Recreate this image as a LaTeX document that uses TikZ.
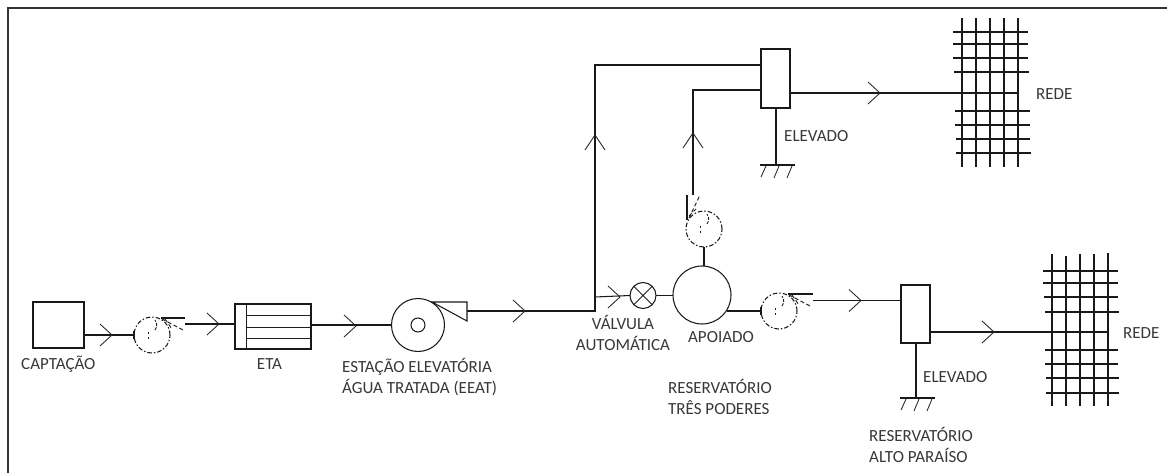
\documentclass[tikz,border=0pt]{standalone}
\usepackage{fontspec}
\setmainfont{Carlito}
\tikzset{
  x=1pt,y=-1pt,
  pipe/.style={draw=black!90,line width=1.05pt},
  thin pipe/.style={draw=black!88,line width=0.95pt},
  chev/.style={draw=black!85,line width=0.85pt},
  equip/.style={draw=black!90,line width=1.05pt,fill=white,inner sep=0pt,outer sep=0pt},
  pump/.style={circle,draw=black!90,line width=1.05pt,dash pattern=on 4.5pt off 2pt on 1.5pt off 2pt,minimum size=36pt,inner sep=0pt,outer sep=0pt},
  lab/.style={inner sep=0pt,font=\fontsize{17pt}{21pt}\selectfont,text=black!78,align=left},
}
\newcommand{\chevR}[2]{\draw[chev] (#1-12,#2-11) -- (#1,#2) -- (#1-12,#2+11);}
\newcommand{\chevU}[2]{\draw[chev] (#1-10,#2+15) -- (#1,#2) -- (#1+10,#2+15);}
\newcommand{\pumpDeco}[2]{%
  \draw[thin pipe,dash pattern=on 3pt off 1.5pt] (#1+3,#2-5) arc (50:-50:5 and 6.5);
  \draw[thin pipe] (#1-4,#2-3) -- (#1-4,#2-1) (#1-4,#2+2) -- (#1-4,#2+4);
}
\newcommand{\ground}[2]{%
  \draw[pipe] (#1-16,#2) -- (#1+19,#2);
  \draw[chev] (#1-10,#2+1) -- (#1-15,#2+12) (#1+3,#2+1) -- (#1-2,#2+13) (#1+16,#2+1) -- (#1+11,#2+13);
}
\begin{document}
\begin{tikzpicture}
\useasboundingbox (0,0) rectangle (1167,473);
\fill[white] (0,0) rectangle (1167,473);
\draw[draw=black!80,line width=1.2pt] (8,473) -- (8,8) -- (1167,8);

% equipment
\node[equip,minimum width=51pt,minimum height=46pt] (capt) at (58.5,325) {};
\node[pump] (p1) at (152,335) {};
\node[equip,minimum width=76pt,minimum height=45pt] (eta) at (273,326.5) {};
\node[circle,equip,minimum size=53pt] (eeat) at (418,325) {};
\node[circle,equip,minimum size=14pt] (eeatin) at (418,325) {};
\node[circle,equip,minimum size=26pt] (valve) at (643,295.5) {};
\node[circle,equip,minimum size=58pt] (apo) at (702,295) {};
\node[pump] (p2) at (704,229) {};
\node[pump] (p3) at (779,311) {};
\node[equip,minimum width=29pt,minimum height=59pt] (tank1) at (775.5,78.5) {};
\node[equip,minimum width=29pt,minimum height=58pt] (tank2) at (915.5,314) {};

\coordinate (jA) at (595,311);
\coordinate (jB) at (595,297);
\coordinate (top1) at (595,65);
\coordinate (t1a) at (761,65);
\coordinate (bend2) at (693,90);
\coordinate (t1b) at (761,90);
\coordinate (p2out) at (693,195);
\coordinate (p1out) at (185,324);
\coordinate (p3out) at (813,300.5);

\draw[pipe] (capt.east |- p1.west) -- (p1.west);
\draw[pipe] (134,331) -- (134,339) (761,307) -- (761,315);
\draw[pipe] (p1out) -- (eta.west |- p1out);
\draw[pipe] (eta.east |- eeat.west) -- (eeat.west);
\draw[pipe] (467,311) -- (jA) -- (top1) -- (t1a);
\draw[pipe] (jB) -- (valve.west);
\draw[pipe] (valve.east) -- (apo.west |- valve.east);
\draw[pipe] (p2.south) -- (apo.north -| p2.south);
\draw[pipe] (p2out) -- (bend2) -- (t1b);
\draw[pipe] (727,311) -- (p3.west);
\draw[pipe] (p3out) -- (tank2.west |- p3out);

% EEAT outlet
\draw[pipe,fill=white] (432,302) -- (467,302) -- (467,321) -- cycle;

% pump outlets
\draw[pipe] (161,318) -- (185,318);
\draw[chev,line width=1pt,dash pattern=on 4pt off 2.5pt] (162,319) -- (185,331);
\draw[chev,line width=1pt,dash pattern=on 4pt off 2.5pt] (165,319) -- (172,329);
\draw[pipe] (687,195) -- (687,220);
\draw[chev,line width=1pt,dash pattern=on 4pt off 2.5pt] (689,218) -- (700,195);
\draw[chev,line width=1pt,dash pattern=on 4pt off 2.5pt] (689,216) -- (696,209);
\draw[pipe] (788,294) -- (813,294);
\draw[chev,line width=1pt,dash pattern=on 4pt off 2.5pt] (789,295) -- (812,307);
\draw[chev,line width=1pt,dash pattern=on 4pt off 2.5pt] (792,295) -- (799,305);
\pumpDeco{152}{335}
\pumpDeco{704}{229}
\pumpDeco{779}{311}

% ETA inner
\draw[thin pipe] (246,304) -- (246,349) (246,315) -- (311,315) (246,327) -- (311,327) (246,338) -- (311,338);
% valve cross
\draw[thin pipe] (valve.45) -- (valve.225) (valve.135) -- (valve.-45);

% tanks to networks
\coordinate (g1w) at (962,93);
\coordinate (g1e) at (1018,93);
\coordinate (g2w) at (1052,332);
\coordinate (g2e) at (1108,332);
\draw[pipe] (tank1.east |- g1w) -- (g1e);
\draw[pipe] (tank2.east |- g2w) -- (g2e);

% stands
\coordinate (s1) at (776,165);
\coordinate (s2) at (916,398);
\draw[pipe] (tank1.south -| s1) -- (s1);
\draw[pipe] (tank2.south -| s2) -- (s2);
\ground{776}{165}
\ground{916}{398}

% grids
\foreach \x in {962,976,990,1004,1018} \draw[pipe] (\x,18) -- (\x,167);
\foreach \y/\a/\b in {32/953/1028,44/953/1028,58/953/1028,72/954/1029,111/955/1030,125/955/1030,139/956/1030,153/956/1031} \draw[pipe] (\a,\y) -- (\b,\y);
\foreach \x/\t in {1052/254,1066/256,1080/254,1094/254,1108/253} \draw[pipe] (\x,\t) -- (\x,406);
\foreach \y/\a/\b in {271/1043/1118,283/1043/1118,297/1044/1118,312/1045/1119,350/1045/1118,364/1045/1118,378/1046/1119,393/1046/1119} \draw[pipe] (\a,\y) -- (\b,\y);

% chevrons
\chevR{112}{335}
\chevR{219}{324}
\chevR{356}{326}
\chevR{525}{311}
\chevR{620}{297}
\chevR{880}{93}
\chevR{861}{300.5}
\chevR{994}{332}
\chevU{595}{135}
\chevU{693}{133}

% labels
\node[lab,anchor=west] (l1) at (21,364) {CAPTAÇÃO};
\node[lab,anchor=center] (l2) at (269.5,364) {ETA};
\node[lab,anchor=west] (l3) at (342,377) {ESTAÇÃO ELEVATÓRIA\\ÁGUA TRATADA (EEAT)};
\node[lab,align=center,anchor=center] (l4) at (623,333) {VÁLVULA\\AUTOMÁTICA};
\node[lab,anchor=center] (l5) at (721,337) {APOIADO};
\node[lab,anchor=west] (l6) at (668,397) {RESERVATÓRIO\\TRÊS PODERES};
\node[lab,anchor=west] (l7) at (784,136) {ELEVADO};
\node[lab,anchor=west] (l8) at (1036,94) {REDE};
\node[lab,anchor=west] (l9) at (923,377) {ELEVADO};
\node[lab,anchor=west] (l10) at (1123,333) {REDE};
\node[lab,anchor=west] (l11) at (869,445) {RESERVATÓRIO\\ALTO PARAÍSO};
\end{tikzpicture}
\end{document}
